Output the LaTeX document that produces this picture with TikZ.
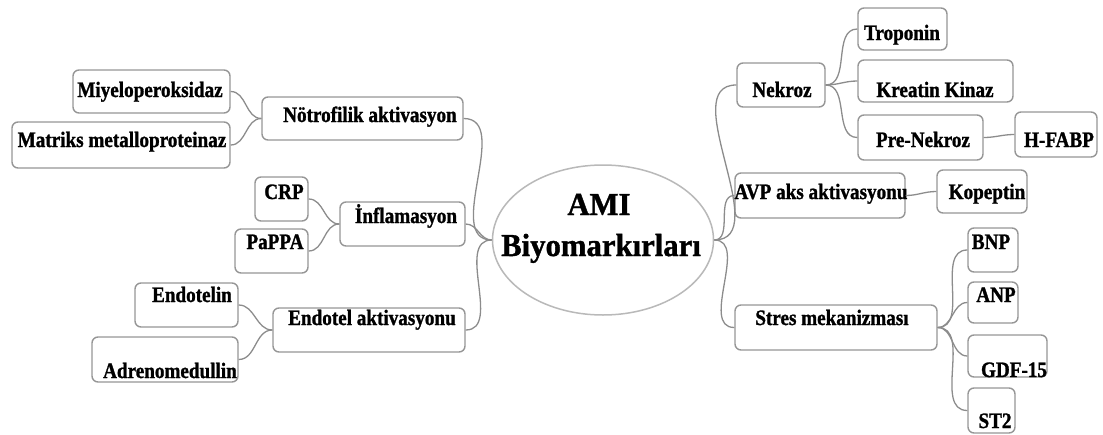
\documentclass[tikz,border=0pt]{standalone}
\usepackage{fontspec}
\setmainfont{Liberation Serif}
\newfontfamily\lblfont{Liberation Serif Bold}[FakeStretch=0.87, FakeBold=1.2]
\newfontfamily\bigfont{Liberation Serif Bold}[FakeStretch=0.96, FakeBold=1.2]
\usetikzlibrary{fit,shapes.geometric}
\definecolor{boxgray}{RGB}{150,150,150}
\definecolor{linegray}{RGB}{140,140,140}
\definecolor{ellgray}{RGB}{185,185,185}
\begin{document}
\begin{tikzpicture}[x=1pt,y=-1pt,
  box/.style={draw=boxgray, line width=1.4pt, rounded corners=6pt, fill=white, inner sep=0pt},
  lbl/.style={anchor=base, inner sep=0pt, font=\lblfont\fontsize{22}{24}\selectfont},
  big/.style={anchor=base, inner sep=0pt, font=\bigfont\fontsize{32}{36}\selectfont},
  conn/.style={draw=linegray, line width=1.3pt},
  root/.style={draw=ellgray, line width=1.5pt, ellipse, fill=white, inner sep=0pt}]
\useasboundingbox (0,0) rectangle (1103,434);

% centre
\node[root, minimum width=221pt, minimum height=150pt] (ami) at (603,240) {};
\node[big] (ami-t1) at (599,215) {AMI};
\node[big] (ami-t2) at (601,256) {Biyomarkırları};

% left boxes
\node[box, fit={(73,70) (230,113)}] (myelo) {};
\node[box, fit={(12,122) (230,168)}] (matriks) {};
\node[box, fit={(262,97) (463,140)}] (notro) {};
\node[box, fit={(255,177) (308,221)}] (crp) {};
\node[box, fit={(235,229) (308,273)}] (pappa) {};
\node[box, fit={(340,202) (465,246)}] (infla) {};
\node[box, fit={(135,283) (238,327)}] (endotelin) {};
\node[box, fit={(92,337) (238,382)}] (adreno) {};
\node[box, fit={(273,308) (465,352)}] (endotel) {};

% right boxes
\node[box, fit={(737,63) (825,107)}] (nekroz) {};
\node[box, fit={(858,8) (947,50)}] (tropo) {};
\node[box, fit={(858,60) (1013,102)}] (kreatin) {};
\node[box, fit={(858,115) (983,160)}] (prenek) {};
\node[box, fit={(1015,112) (1097,157)}] (hfabp) {};
\node[box, fit={(735,173) (905,218)}] (avp) {};
\node[box, fit={(937,170) (1027,213)}] (kopep) {};
\node[box, fit={(735,305) (937,350)}] (stres) {};
\node[box, fit={(968,228) (1018,272)}] (bnp) {};
\node[box, fit={(968,282) (1018,323)}] (anp) {};
\node[box, fit={(968,335) (1047,377)}] (gdf) {};
\node[box, fit={(968,388) (1015,433)}] (st2) {};

% labels
\node[lbl] (myelo-t) at (150,97) {Miyeloperoksidaz};
\node[lbl] (matriks-t) at (122,147) {Matriks metalloproteinaz};
\node[lbl] (notro-t) at (370,122) {Nötrofilik aktivasyon};
\node[lbl] (crp-t) at (284,199) {CRP};
\node[lbl] (pappa-t) at (275,249) {PaPPA};
\node[lbl] (infla-t) at (406,223) {İnflamasyon};
\node[lbl] (endotelin-t) at (192,302) {Endotelin};
\node[lbl] (adreno-t) at (170,378) {Adrenomedullin};
\node[lbl] (endotel-t) at (372,325) {Endotel aktivasyonu};
\node[lbl] (nekroz-t) at (782,97) {Nekroz};
\node[lbl] (tropo-t) at (902,40) {Troponin};
\node[lbl] (kreatin-t) at (935,97) {Kreatin Kinaz};
\node[lbl] (prenek-t) at (923,147) {Pre-Nekroz};
\node[lbl] (hfabp-t) at (1059,147) {H-FABP};
\node[lbl] (avp-t) at (821,199) {AVP aks aktivasyonu};
\node[lbl] (kopep-t) at (987,199) {Kopeptin};
\node[lbl] (stres-t) at (832,325) {Stres mekanizması};
\node[lbl] (bnp-t) at (991,249) {BNP};
\node[lbl] (anp-t) at (996,302) {ANP};
\node[lbl] (gdf-t) at (1014,377) {GDF-15};
\node[lbl] (st2-t) at (995,428) {ST2};

% connectors
\draw[conn] (myelo.east) to[out=0,in=180] (notro.west);
\draw[conn] (matriks.east) to[out=0,in=180] (notro.west);
\draw[conn] (crp.east) to[out=0,in=180] (infla.west);
\draw[conn] (pappa.east) to[out=0,in=180] (infla.west);
\draw[conn] (endotelin.east) to[out=0,in=180] (endotel.west);
\draw[conn] (adreno.east) to[out=0,in=180] (endotel.west);
\draw[conn] (notro.east) to[out=0,in=180] (ami.west);
\draw[conn] (infla.east) to[out=0,in=180] (ami.west);
\draw[conn] (endotel.east) to[out=0,in=180] (ami.west);
\draw[conn] (ami.east) to[out=0,in=180] (nekroz.west);
\draw[conn] (ami.east) to[out=0,in=180] (avp.west);
\draw[conn] (ami.east) to[out=0,in=180] (stres.west);
\draw[conn] (nekroz.east) to[out=0,in=180] (tropo.west);
\draw[conn] (nekroz.east) to[out=0,in=180] (kreatin.west);
\draw[conn] (nekroz.east) to[out=0,in=180] (prenek.west);
\draw[conn] (prenek.east) to[out=0,in=180] (hfabp.west);
\draw[conn] (avp.east) to[out=0,in=180] (kopep.west);
\draw[conn] (stres.east) to[out=0,in=180] (bnp.west);
\draw[conn] (stres.east) to[out=0,in=180] (anp.west);
\draw[conn] (stres.east) to[out=0,in=180] (gdf.west);
\draw[conn] (stres.east) to[out=0,in=180] (st2.west);
\end{tikzpicture}
\end{document}
